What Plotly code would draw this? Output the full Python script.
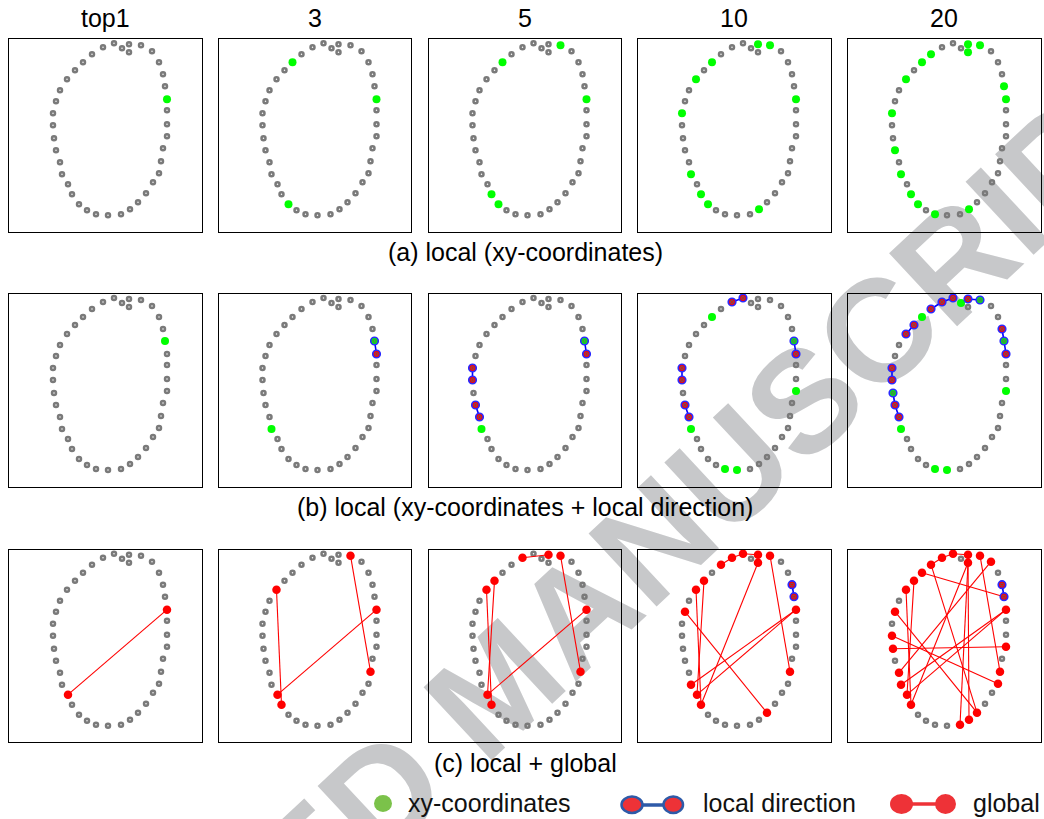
import math
import plotly.graph_objects as go

W, H = 1044, 819
FONT = "Liberation Sans, Arial, sans-serif"

# keypoint coordinates inside each panel (panel units 0..192, y downwards)
KP_X = [83, 94, 105, 113, 120, 120, 132, 143, 150, 154, 156, 158, 158, 158, 158, 154, 152, 150, 144, 137,
        129, 121, 112, 99, 87, 78, 70, 63, 59, 53, 51, 47, 45, 44, 44, 47, 51, 58, 66, 74]
KP_Y = [15, 8, 4, 9, 5, 13, 6, 12, 23, 35, 47, 60, 71, 85, 97, 109, 122, 134, 143, 154,
        163, 170, 175, 176, 175, 171, 165, 155, 145, 135, 123, 111, 99, 86, 74, 62, 51, 40, 31, 23]

COL_TITLES = ["top1", "3", "5", "10", "20"]
ROW_CAPTIONS = ["(a) local (xy-coordinates)",
                "(b) local (xy-coordinates + local direction)",
                "(c) local + global"]
LEGEND_LABELS = ["xy-coordinates", "local direction", "global"]
WATERMARK = "ACCEPTED MANUSCRIPT"

# row (a): matched keypoints (xy-coordinates)
ROW1_XY = [[11],
           [39, 11, 26],
           [6, 39, 11, 27, 26],
           [4, 6, 39, 37, 11, 34, 29, 27, 26, 21],
           [4, 6, 5, 0, 39, 37, 10, 11, 34, 31, 29, 27, 26, 21, 24]]

# row (b): xy matches and local-direction pairs
ROW2_XY = [[10],
           [10, 29],
           [10, 29],
           [10, 39, 14, 29, 24, 23],
           [6, 3, 39, 10, 32, 29, 14, 24, 23]]
ROW2_LOCAL = [[],
              [(10, 11)],
              [(10, 11), (34, 33), (31, 30)],
              [(1, 2), (10, 11), (34, 33), (31, 30)],
              [(0, 1), (1, 2), (4, 6), (38, 37), (9, 10), (10, 11), (34, 33), (32, 31), (31, 30)]]

# row (c): global pairs and local pairs
ROW3_GLOBAL = [[(11, 28)],
               [(11, 28), (6, 16), (37, 27)],
               [(11, 28), (6, 16), (37, 27), (38, 28), (1, 4)],
               [(11, 28), (11, 29), (6, 16), (37, 27), (38, 28), (0, 1), (1, 2), (2, 4), (5, 27), (35, 20)],
               [(11, 28), (11, 29), (6, 16), (37, 27), (38, 28), (0, 1), (1, 2), (2, 4), (5, 27), (35, 20),
                (39, 10), (0, 20), (4, 21), (5, 22), (7, 30), (33, 17), (32, 14)]]
ROW3_LOCAL = [[], [], [], [(9, 10)], [(9, 10)]]

GRAY = "#7a7a7a"
GREEN = "#00ff00"
RED = "#ff0000"
BLUE = "#0000ff"

COL_X0 = [9, 218.5, 428.5, 638, 848]
ROW_Y0 = [39.3, 294, 549.7]
S = 192.5

fig = go.Figure()


def pair_lines(pairs):
    xs, ys = [], []
    for a, b in pairs:
        xs += [KP_X[a], KP_X[b], None]
        ys += [KP_Y[a], KP_Y[b], None]
    return xs, ys


def add_panel(idx, green, local, glob):
    xa = "x" if idx == 1 else f"x{idx}"
    ya = "y" if idx == 1 else f"y{idx}"
    common = dict(xaxis=xa, yaxis=ya, showlegend=False, hoverinfo="skip")
    # all keypoints
    fig.add_trace(go.Scatter(x=KP_X, y=KP_Y, mode="markers",
                             marker=dict(symbol="circle-open", size=4, color=GRAY,
                                         line=dict(width=2.5, color=GRAY)), **common))
    local_pts = []
    for a, b in local:
        for p in (a, b):
            if p not in local_pts:
                local_pts.append(p)
    glob_pts = []
    for a, b in glob:
        for p in (a, b):
            if p not in glob_pts and p not in local_pts:
                glob_pts.append(p)
    if glob:
        lx, ly = pair_lines(glob)
        fig.add_trace(go.Scatter(x=lx, y=ly, mode="lines",
                                 line=dict(color=RED, width=1.1), **common))
    if local:
        lx, ly = pair_lines(local)
        fig.add_trace(go.Scatter(x=lx, y=ly, mode="lines",
                                 line=dict(color=BLUE, width=1.6), **common))
    g = [p for p in green if p not in local_pts]
    if g:
        fig.add_trace(go.Scatter(x=[KP_X[p] for p in g], y=[KP_Y[p] for p in g], mode="markers",
                                 marker=dict(size=8, color=GREEN, line=dict(width=0)), **common))
    if glob_pts:
        fig.add_trace(go.Scatter(x=[KP_X[p] for p in glob_pts], y=[KP_Y[p] for p in glob_pts],
                                 mode="markers",
                                 marker=dict(size=8.5, color=RED, line=dict(width=0)), **common))
    if local_pts:
        cols = [GREEN if p in green else RED for p in local_pts]
        fig.add_trace(go.Scatter(x=[KP_X[p] for p in local_pts], y=[KP_Y[p] for p in local_pts],
                                 mode="markers",
                                 marker=dict(size=7.5, color=cols, line=dict(width=1.7, color="#2a2aff")),
                                 **common))
        fig.add_trace(go.Scatter(x=[KP_X[p] for p in local_pts], y=[KP_Y[p] for p in local_pts],
                                 mode="markers",
                                 marker=dict(symbol="circle-open", size=3, color="#606060",
                                             line=dict(width=1, color="#606060")), **common))


def px(x):
    return x / W


def py(y):
    return 1 - y / H


layout = dict(width=W, height=H, margin=dict(l=0, r=0, t=0, b=0),
              paper_bgcolor="white", plot_bgcolor="rgba(0,0,0,0)",
              font=dict(family=FONT, size=25, color="black"))

idx = 0
for r in range(3):
    for c in range(5):
        idx += 1
        if r == 0:
            add_panel(idx, ROW1_XY[c], [], [])
        elif r == 1:
            add_panel(idx, ROW2_XY[c], ROW2_LOCAL[c], [])
        else:
            add_panel(idx, [], ROW3_LOCAL[c], ROW3_GLOBAL[c])
        x0 = COL_X0[c]
        y0 = ROW_Y0[r]
        sx = "" if idx == 1 else str(idx)
        ax = dict(showline=True, mirror=True, linecolor="black", linewidth=1.3,
                  showticklabels=False, ticks="", showgrid=False, zeroline=False,
                  fixedrange=True)
        layout[f"xaxis{sx}"] = dict(ax, domain=[px(x0), min(1.0, px(x0 + S))], range=[0, S],
                                    anchor=f"y{sx}")
        layout[f"yaxis{sx}"] = dict(ax, domain=[py(y0 + S), py(y0)], range=[S, 0],
                                    anchor=f"x{sx}")

fig.update_layout(**layout)

annotations = []
for c, t in enumerate(COL_TITLES):
    annotations.append(dict(text=t, x=px(COL_X0[c] + S / 2), y=py(18), xref="paper", yref="paper",
                            xanchor="center", yanchor="middle", showarrow=False,
                            font=dict(size=25, family=FONT, color="black")))
for yv, t in zip([252, 507, 763], ROW_CAPTIONS):
    annotations.append(dict(text=t, x=px(525), y=py(yv), xref="paper", yref="paper",
                            xanchor="center", yanchor="middle", showarrow=False,
                            font=dict(size=25, family=FONT, color="black")))
for xv, t in zip([406, 701, 971], LEGEND_LABELS):
    annotations.append(dict(text=t, x=px(xv), y=py(803), xref="paper", yref="paper",
                            xanchor="left", yanchor="middle", showarrow=False,
                            font=dict(size=25, family=FONT, color="#111111")))

shapes = []
# watermark (behind the panels' content)
cx, cy, ang, half = 488, 676, math.radians(43), 400
shapes.append(dict(type="line", xref="paper", yref="paper", layer="below",
                   x0=px(cx - half * math.cos(ang)), y0=py(cy + half * math.sin(ang)),
                   x1=px(cx + half * math.cos(ang)), y1=py(cy - half * math.sin(ang)),
                   line=dict(color="rgba(0,0,0,0)", width=0),
                   label=dict(text=WATERMARK, textposition="middle", yanchor="middle",
                              font=dict(size=145, family=FONT, color="#c7c8ca", weight="bold"))))

# legend symbols
LG_GREEN, LG_RED, LG_BLUE = "#7bc24a", "#ee3237", "#2e5aa8"
shapes.append(dict(type="circle", xref="paper", yref="paper", x0=px(374), x1=px(392),
                   y0=py(812), y1=py(795), fillcolor=LG_GREEN, line=dict(width=0)))
shapes.append(dict(type="line", xref="paper", yref="paper", x0=px(631), x1=px(674),
                   y0=py(805), y1=py(805), line=dict(color=LG_BLUE, width=3.5)))
for a, b in [(621.5, 642.5), (663.5, 683)]:
    shapes.append(dict(type="circle", xref="paper", yref="paper", x0=px(a), x1=px(b),
                       y0=py(813), y1=py(796.5), fillcolor=LG_RED,
                       line=dict(color=LG_BLUE, width=2.5)))
shapes.append(dict(type="line", xref="paper", yref="paper", x0=px(901), x1=px(946),
                   y0=py(804), y1=py(804), line=dict(color=LG_RED, width=3.5)))
for a, b in [(890, 913), (935, 956)]:
    shapes.append(dict(type="circle", xref="paper", yref="paper", x0=px(a), x1=px(b),
                       y0=py(814), y1=py(794), fillcolor=LG_RED, line=dict(width=0)))

fig.update_layout(annotations=annotations, shapes=shapes)
# remove the browser's default 8px body margin so the figure fills the window
fig.write_html("out.html", config={"displayModeBar": False},
               post_script="document.body.style.margin='0px';")
